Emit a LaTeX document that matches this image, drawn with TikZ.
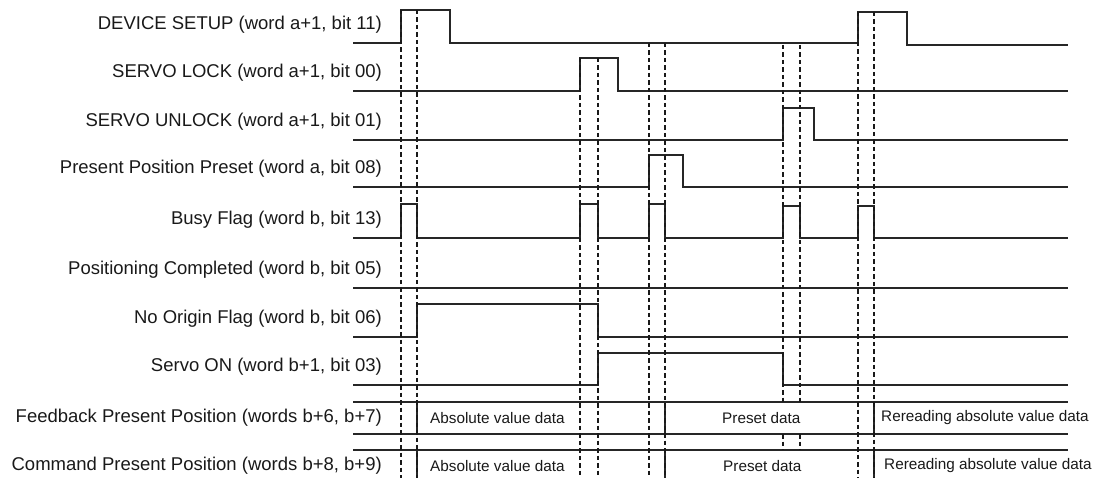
\documentclass[tikz,border=0pt]{standalone}
\usepackage{fontspec}
\setmainfont{Liberation Sans}
\usepackage{xcolor}
\usetikzlibrary{positioning}

\tikzset{
  sig/.style={line width=1.2pt, draw=black!85},
  sync/.style={line width=2pt, draw=black!90, dash pattern=on 4.5pt off 3pt},
  lbl/.style={anchor=east, inner sep=0pt, text=black!90, font=\fontsize{18.5}{20}\selectfont},
  busdata/.style={anchor=west, inner sep=0pt, text=black!90, font=\fontsize{15.3}{18}\selectfont},
}

\begin{document}
\begin{tikzpicture}[x=1pt, y=-1pt]
        \useasboundingbox (0,0) rectangle (1098,478);

        % signal names
        \node[lbl] (devsetup) at (382,25)  {DEVICE SETUP (word a+1, bit 11)};
        \node[lbl] (svlock)   at (382,73)  {SERVO LOCK (word a+1, bit 00)};
        \node[lbl] (svunlock) at (382,122) {SERVO UNLOCK (word a+1, bit 01)};
        \node[lbl] (ppreset)  at (382,169) {Present Position Preset (word a, bit 08)};
        \node[lbl] (busy)     at (382,220) {Busy Flag (word b, bit 13)};
        \node[lbl] (poscomp)  at (382,270) {Positioning Completed (word b, bit 05)};
        \node[lbl] (noorigin) at (382,319) {No Origin Flag (word b, bit 06)};
        \node[lbl] (svon)     at (382,367) {Servo ON (word b+1, bit 03)};
        \node[lbl] (fbpos)    at (382,418) {Feedback Present Position (words b+6, b+7)};
        \node[lbl] (cmdpos)   at (382,466) {Command Present Position (words b+8, b+9)};

        % bit waveforms
        \draw[sig] (353,43) -- (401,43) -- (401,10) -- (450,10) -- (450,43) -- (858,43)
                   -- (858,12) -- (907,12) -- (907,45) -- (1068,45);
        \draw[sig] (353,91) -- (580,91) -- (580,58) -- (618,58) -- (618,91) -- (1068,91);
        \draw[sig] (353,140) -- (783,140) -- (783,108) -- (814,108) -- (814,140) -- (1068,140);
        \draw[sig] (353,187) -- (649,187) -- (649,155) -- (683,155) -- (683,187) -- (1068,187);
        \draw[sig] (353,238) -- (401,238) -- (401,204) -- (417,204) -- (417,238) -- (580,238)
                   -- (580,204) -- (598,204) -- (598,238) -- (649,238) -- (649,204) -- (665,204)
                   -- (665,238) -- (783,238) -- (783,206) -- (800,206) -- (800,238) -- (858,238)
                   -- (858,206) -- (874,206) -- (874,238) -- (1068,238);
        \draw[sig] (353,288) -- (1068,288);
        \draw[sig] (353,337) -- (417,337) -- (417,304) -- (598,304) -- (598,337) -- (1068,337);
        \draw[sig] (353,385) -- (598,385) -- (598,353) -- (783,353) -- (783,385) -- (1068,385);

        % word data rows
        \draw[sig] (353,402) -- (1068,402);
        \draw[sig] (353,434) -- (1068,434);
        \draw[sig] (353,450) -- (1068,450);
        \foreach \x in {417,665,874} {
            \draw[sig] (\x,402) -- (\x,434);
            \draw[sig] (\x,450) -- (\x,478);
        }
        \node[busdata] (fbabs)  at (430,418) {Absolute value data};
        \node[busdata] (fbpre)  at (722,418) {Preset data};
        \node[busdata] (fbrer)  at (881,418) {Rereading absolute value data};
        \node[busdata] (cmdabs) at (430,466) {Absolute value data};
        \node[busdata] (cmdpre) at (723,466) {Preset data};
        \node[busdata] (cmdrer) at (884,466) {Rereading absolute value data};

        % timing marks
        \foreach \x/\y in {401/10, 417/10, 580/58, 598/58, 649/43, 665/43, 858/12, 874/12}
            \draw[sync] (\x,\y) -- (\x,478);
        \foreach \x in {783,800} {
            \draw[sync] (\x,45) -- (\x,402);
            \draw[sync] (\x,434) -- (\x,450);
        }
    \end{tikzpicture}
\end{document}
